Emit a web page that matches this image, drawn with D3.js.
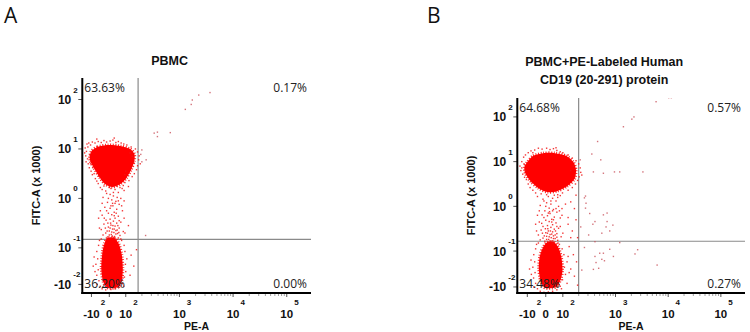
<!DOCTYPE html>
<html><head><meta charset="utf-8">
<script src="https://cdn.jsdelivr.net/npm/d3@7"></script>
<style>body{margin:0;background:#fff}svg{display:block}</style>
</head><body>
<svg id="c" width="750" height="332"></svg>
<script>
// ---------- DATA (axis values in display-channel units: PE-A ticks -10^2..10^5 => -1..4; FITC-A ticks -10^-2..10^2 => -2..2) ----------
const xTickValues = [-1, 0, 1, 2, 3, 4];
const xTickBase = ["-10", "0", "10", "10", "10", "10"];
const xTickExp = ["2", "", "2", "3", "4", "5"];
const yTickValues = [2, 1, 0, -1, -2];
const yTickBase = ["10", "10", "10", "10", "-10"];
const yTickExp = ["2", "1", "0", "-1", "-2"];

const panelLetters = ["A", "B"];
const panelTitles = [["PBMC"], ["PBMC+PE-Labeled Human", "CD19 (20-291) protein"]];
const quadrantA = ["63.63%", "0.17%", "36.20%", "0.00%"]; // UL, UR, LL, LR
const quadrantB = ["64.68%", "0.57%", "34.48%", "0.27%"];
const gateA = [1.23, -0.83];
const gateB = [1.30, -0.78];

// dense population outlines
const coreUpperA = [[-1.03,0.94],[-0.67,1.04],[-0.06,1.08],[0.67,1.06],[1.08,1.00],[1.16,0.90],[1.16,0.76],[1.10,0.58],[1.01,0.41],[0.67,0.29],[0.18,0.23],[-0.24,0.29],[-0.55,0.43],[-0.85,0.61],[-1.09,0.78]];
const coreLowerA = [[-0.10,-0.80],[0.30,-0.80],[0.58,-0.92],[0.76,-1.19],[0.82,-1.55],[0.77,-1.88],[0.55,-2.07],[-0.06,-2.10],[-0.34,-1.93],[-0.45,-1.55],[-0.38,-1.11],[-0.26,-0.90]];
const coreUpperB = [[-1.00,0.99],[-0.68,1.13],[-0.14,1.19],[0.54,1.19],[1.06,1.13],[1.20,0.99],[1.25,0.81],[1.22,0.61],[1.08,0.45],[0.66,0.34],[0.09,0.32],[-0.41,0.41],[-0.84,0.57],[-1.11,0.74],[-1.16,0.88]];
const coreLowerB = [[0.08,-0.80],[0.49,-0.80],[0.75,-0.93],[0.92,-1.19],[0.98,-1.53],[0.87,-1.80],[0.60,-2.00],[-0.03,-2.03],[-0.28,-1.83],[-0.38,-1.47],[-0.32,-1.14],[-0.15,-0.92]];

// individual events around the dense populations
const eventsA = [
[-1.35,1.02],[-1.28,0.95],[-1.32,0.86],[-1.22,0.80],[-1.25,1.10],[-1.15,1.12],[-1.05,1.08],[-0.95,1.14],[-0.80,1.12],[-0.62,1.15],[-0.45,1.13],[-0.30,1.17],[-0.15,1.14],[0.05,1.16],[0.22,1.18],[0.40,1.13],[0.55,1.15],[0.72,1.12],[0.88,1.10],[1.02,1.08],[1.10,1.04],[1.18,1.00],[1.22,0.94],[1.25,0.86],[1.24,0.78],[1.27,0.70],[1.22,0.66],[1.20,0.58],[1.16,0.50],[1.12,0.44],[1.06,0.36],[0.95,0.32],[0.85,0.26],[0.78,0.20],[-1.18,0.70],[-1.12,0.62],[-1.02,0.55],[-0.95,0.48],[-0.85,0.50],[-0.78,0.40],[-0.70,0.35],[-0.62,0.30],[-0.50,0.22],[-1.30,0.74],[-1.38,0.92],[-0.40,0.18],[0.90,0.16],[1.05,0.24],[-1.10,0.88],[-1.20,1.04],[0.30,1.22],[-0.70,1.20],[1.15,0.72],[1.12,0.85],[1.08,0.92],[-1.05,0.70],[-0.92,0.62],[0.95,0.48],[1.00,0.55],[-0.60,0.45],
[0.10,0.20],[0.35,0.18],[-0.20,0.15],[0.55,0.12],[0.05,0.08],[0.25,0.05],[-0.35,0.02],[0.70,0.00],[0.15,-0.03],[0.40,-0.06],[-0.10,-0.08],[0.60,-0.12],[0.22,-0.15],[-0.25,-0.18],[0.05,-0.20],[0.45,-0.22],[0.80,-0.25],[0.30,-0.28],[-0.05,-0.30],[0.15,-0.33],[-0.40,-0.34],[0.55,-0.36],[0.35,-0.40],[0.05,-0.42],[-0.18,-0.44],[0.25,-0.46],[0.70,-0.48],[0.45,-0.50],[-0.30,-0.52],[0.10,-0.54],[0.35,-0.56],[-0.05,-0.58],[0.60,-0.60],[0.20,-0.62],[-0.45,-0.63],[0.40,-0.65],[0.00,-0.66],[0.85,-0.67],[0.28,-0.69],[-0.20,-0.70],[0.50,-0.71],[0.12,-0.73],[-0.35,-0.74],[0.65,-0.75],[0.32,-0.77],[-0.10,-0.78],[0.95,-0.70],[-0.55,-0.60],[1.05,-0.55],[0.90,-0.40],[-0.50,-0.25],[0.75,-0.15],[0.48,0.02],[-0.15,0.10],[0.20,-0.10],[0.08,-0.50],[0.42,-0.30],[-0.28,-0.40],[0.18,-0.76],[0.55,-0.80],
[0.05,-0.60],[0.30,-0.62],[0.15,-0.68],[0.40,-0.72],[0.00,-0.74],[0.25,-0.79],[0.48,-0.64],[-0.12,-0.66],[0.58,-0.69],[0.10,-0.80],[0.38,-0.82],[-0.22,-0.60],[0.22,-0.55],[0.52,-0.55],[-0.08,-0.50],[0.30,-0.35],[0.60,-0.45],[-0.15,-0.25],[0.10,-0.15],[0.35,-0.10],[0.55,-0.05],[-0.05,0.00],[0.25,0.12],[0.45,0.25],[0.00,0.22],[-0.30,0.25],[0.65,0.22],[-0.40,-0.10],[0.90,-0.05],[-0.60,-0.40],
[-0.60,-0.95],[-0.70,-1.10],[-0.65,-1.30],[-0.75,-1.45],[-0.62,-1.60],[-0.70,-1.75],[-0.58,-1.90],[-0.50,-2.05],[-0.40,-2.12],[-0.20,-2.15],[0.10,-2.14],[0.35,-2.12],[0.62,-2.08],[0.80,-1.98],[0.92,-1.80],[1.00,-1.65],[0.98,-1.45],[1.02,-1.30],[0.95,-1.10],[0.90,-0.95],[0.75,-0.85],[1.10,-1.20],[1.15,-1.50],[1.08,-1.75],[-0.85,-1.25],[-0.80,-1.65],[-0.55,-0.85],[0.70,-0.82],[-0.45,-0.82],[1.20,-1.05],[-0.90,-1.50],[0.88,-2.05],[-0.68,-2.00]
];
const sparseA = [[2.57,2.14],[2.36,2.09],[2.24,1.99],[2.22,1.90],[2.11,1.80],[1.83,1.33],[1.59,1.34],[1.53,1.32],[1.59,1.25],[1.30,0.98],[1.28,0.89],[1.38,0.78],[1.30,0.74],[1.37,-0.75]];

const eventsB = [
[-1.40,0.90],[-1.35,0.80],[-1.30,1.00],[-1.25,0.72],[-1.20,1.10],[-1.10,1.15],[-0.95,1.20],[-0.80,1.24],[-0.60,1.26],[-0.40,1.30],[-0.20,1.28],[0.05,1.30],[0.25,1.27],[0.45,1.29],[0.65,1.25],[0.85,1.22],[1.00,1.20],[1.10,1.15],[1.18,1.08],[1.25,1.02],[1.30,0.95],[1.33,0.86],[1.34,0.76],[1.31,0.66],[1.28,0.58],[1.24,0.50],[1.18,0.42],[1.10,0.36],[0.98,0.30],[0.85,0.24],[0.70,0.20],[-0.95,0.50],[-1.05,0.60],[-1.15,0.65],[-0.85,0.42],[-0.70,0.36],[-0.55,0.30],[-0.45,0.22],[-1.30,0.86],[1.36,0.70],[-1.18,0.95],[-0.70,1.20],[0.60,1.31],[1.15,0.80],[1.20,0.90],[1.22,0.65],[-1.10,0.80],[0.95,0.40],[-0.80,0.55],
[0.15,0.22],[0.40,0.18],[-0.15,0.16],[0.60,0.12],[0.05,0.08],[0.30,0.05],[-0.30,0.02],[0.75,0.00],[0.20,-0.04],[0.45,-0.07],[-0.05,-0.10],[0.65,-0.13],[0.25,-0.16],[-0.20,-0.19],[0.10,-0.21],[0.50,-0.24],[0.85,-0.26],[0.35,-0.29],[0.00,-0.31],[0.20,-0.34],[-0.35,-0.35],[0.60,-0.37],[0.40,-0.41],[0.10,-0.43],[-0.15,-0.45],[0.30,-0.47],[0.75,-0.49],[0.50,-0.51],[-0.25,-0.53],[0.15,-0.55],[0.40,-0.57],[0.00,-0.59],[0.65,-0.61],[0.25,-0.63],[-0.40,-0.64],[0.45,-0.66],[0.05,-0.67],[0.90,-0.68],[0.32,-0.70],[-0.15,-0.71],[0.55,-0.72],[0.17,-0.74],[-0.30,-0.75],[0.70,-0.76],[0.37,-0.77],[-0.05,-0.78],[1.00,-0.60],[-0.50,-0.55],[1.10,-0.40],[0.95,-0.20],[-0.45,-0.20],[0.80,-0.10],[1.05,0.05],[-0.10,0.12],[0.22,-0.12],[0.12,-0.50],[0.45,-0.30],[-0.22,-0.38],[1.15,-0.70],[0.85,-0.45],
[0.10,-0.60],[0.35,-0.62],[0.20,-0.68],[0.45,-0.72],[0.05,-0.74],[0.30,-0.79],[0.55,-0.64],[-0.08,-0.66],[0.65,-0.69],[0.15,-0.80],[0.42,-0.82],[-0.18,-0.60],[0.27,-0.55],[0.57,-0.55],[-0.02,-0.50],[0.35,-0.35],[0.65,-0.45],[-0.10,-0.25],[0.15,-0.15],[0.40,-0.10],[0.60,-0.05],[0.00,0.00],[0.30,0.12],[0.50,0.25],[0.05,0.26],[-0.25,0.28],[0.70,0.26],[-0.35,-0.10],[0.95,-0.05],[-0.55,-0.40],
[1.15,0.10],[1.22,-0.05],[1.10,-0.25],[1.25,-0.30],[1.18,-0.55],[1.28,-0.70],[1.12,-0.90],[1.20,-1.10],[1.26,-1.30],[1.15,-1.50],[1.22,-1.70],[1.08,-1.90],[1.28,-1.95],[1.25,0.25],
[-0.55,-0.95],[-0.65,-1.10],[-0.60,-1.30],[-0.70,-1.45],[-0.58,-1.60],[-0.66,-1.75],[-0.55,-1.90],[-0.45,-2.05],[-0.30,-2.12],[-0.10,-2.15],[0.15,-2.14],[0.40,-2.12],[0.65,-2.08],[0.85,-1.98],[0.98,-1.80],[1.05,-1.65],[1.03,-1.45],[1.08,-1.30],[1.02,-1.10],[0.96,-0.95],[0.80,-0.85],[-0.80,-1.25],[-0.78,-1.65],[-0.50,-0.85],[0.72,-0.82],[-0.40,-0.82],[-0.88,-1.50],[0.92,-2.05],[-0.65,-2.00],[1.12,-1.60],[1.10,-1.15]
];
const sparseB = [[2.77,2.34],[3.01,2.43],[3.06,2.43],[2.35,2.00],[2.31,1.95],[2.15,1.78],[1.66,1.45],[1.55,1.17],[1.72,1.04],[1.58,0.77],[1.77,0.74],[1.98,0.77],[2.08,0.77],[2.52,0.77],[1.33,1.04],[1.41,0.19],[1.43,-0.04],[1.51,-0.16],[1.77,-0.19],[1.61,-0.34],[1.57,-0.40],[1.84,-0.34],[1.95,-0.42],[1.82,-0.46],[1.89,-0.55],[1.34,-0.46],[1.49,-0.64],[2.08,-0.81],[1.41,-0.92],[1.89,-0.96],[2.42,-0.97],[2.37,-1.08],[1.70,-1.06],[1.77,-1.06],[1.61,-1.15],[1.74,-1.23],[1.96,-1.15],[1.63,-1.32],[1.79,-1.27],[2.79,-1.39],[1.68,-1.48],[1.36,-1.53],[1.58,-1.51],[1.43,0.23],[1.44,0.07],[1.84,-0.15],[1.74,-0.60],[1.61,-0.79]];

// ---------- LAYOUT ----------
const panels = [
  {letter: panelLetters[0], title: panelTitles[0], quad: quadrantA, gate: gateA, cores: [coreUpperA, coreLowerA], events: eventsA, sparse: sparseA,
   left: 82.3, right: 311, top: 78, bottom: 293, xFrac: [0.04, 0.118, 0.19, 0.894], yFrac: [0.96, 0.79, 0.10],
   letterX: 4, titleY: [64.5]},
  {letter: panelLetters[1], title: panelTitles[1], quad: quadrantB, gate: gateB, cores: [coreUpperB, coreLowerB], events: eventsB, sparse: sparseB,
   left: 517.3, right: 745, top: 98, bottom: 293, xFrac: [0.044, 0.125, 0.2, 0.894], yFrac: [0.969, 0.785, 0.097],
   letterX: 427, titleY: [65.5, 83.5]}
];

const svg = d3.select("#c");
const red = "#ff0000";

panels.forEach((p, i) => {
  const g = svg.append("g");
  const W = p.right - p.left, H = p.bottom - p.top;
  const x = d3.scaleLinear().domain([-1, 0, 1, 4]).range(p.xFrac.map(f => p.left + f * W));
  const y = d3.scaleLinear().domain([-2, -1, 2]).range(p.yFrac.map(f => p.top + f * H));

  g.append("text").attr("x", p.letterX).attr("y", 23).text(p.letter)
    .attr("font-family", "Open Sans, sans-serif").attr("font-size", 21).attr("fill", "#111");

  const cx = (p.left + p.right) / 2;
  p.title.forEach((t, k) => g.append("text").attr("x", cx - 27).attr("y", p.titleY[k]).text(t)
    .attr("text-anchor", "middle").attr("font-family", "Liberation Sans, Arial, sans-serif")
    .attr("font-weight", "bold").attr("font-size", 12.5).attr("fill", "#111"));

  const clipId = "clip" + i;
  svg.append("clipPath").attr("id", clipId).append("rect")
    .attr("x", p.left).attr("y", p.top).attr("width", W).attr("height", H);
  const plot = g.append("g").attr("clip-path", `url(#${clipId})`);

  // gates
  plot.append("line").attr("x1", x(p.gate[0])).attr("x2", x(p.gate[0])).attr("y1", p.top).attr("y2", p.bottom)
    .attr("stroke", "#8a8a8a").attr("stroke-width", 1.2);
  plot.append("line").attr("x1", p.left).attr("x2", p.right).attr("y1", y(p.gate[1])).attr("y2", y(p.gate[1]))
    .attr("stroke", "#8a8a8a").attr("stroke-width", 1.2);

  // dense populations
  const outline = d3.line().x(d => x(d[0])).y(d => y(d[1])).curve(d3.curveCardinalClosed.tension(0.2));
  p.cores.forEach(c => {
    plot.append("path").attr("d", outline(c)).attr("fill", red)
      .attr("stroke", red).attr("stroke-width", 3).attr("stroke-dasharray", "1 1.6").attr("stroke-opacity", 0.85);
  });

  // individual events
  plot.selectAll(".ev").data(p.events).join("rect").attr("class", "ev")
    .attr("x", d => x(d[0]) - 0.7).attr("y", d => y(d[1]) - 0.7).attr("width", 1.4).attr("height", 1.4)
    .attr("fill", "#f01414").attr("opacity", 0.85);
  plot.selectAll(".sp").data(p.sparse).join("rect").attr("class", "sp")
    .attr("x", d => x(d[0]) - 0.7).attr("y", d => y(d[1]) - 0.7).attr("width", 1.4).attr("height", 1.4)
    .attr("fill", "#c8505a").attr("opacity", 0.8);

  // quadrant percentages
  const qpos = [[p.left + 2, p.top + 14, "start"], [p.right - 4, p.top + 14, "end"],
                [p.left + 2, p.bottom - 5, "start"], [p.right - 4, p.bottom - 5, "end"]];
  p.quad.forEach((t, k) => {
    g.append("text").attr("x", qpos[k][0]).attr("y", qpos[k][1]).attr("text-anchor", qpos[k][2]).text(t)
      .attr("font-family", "Open Sans, sans-serif").attr("font-size", 12).attr("fill", "#222");
  });

  // minor ticks on x axis (log decades)
  const minor = [];
  for (let dec = 1; dec < 4; dec++) for (let m = 2; m <= 9; m++) minor.push(dec + Math.log10(m));
  g.selectAll(".mt").data(minor).join("line").attr("class", "mt")
    .attr("x1", d => x(d)).attr("x2", d => x(d)).attr("y1", p.bottom).attr("y2", p.bottom + 3)
    .attr("stroke", "#888").attr("stroke-width", 0.8);
  g.selectAll(".Mt").data(xTickValues).join("line").attr("class", "Mt")
    .attr("x1", d => x(d)).attr("x2", d => x(d)).attr("y1", p.bottom).attr("y2", p.bottom + 4)
    .attr("stroke", "#555").attr("stroke-width", 1);
  g.selectAll(".My").data(yTickValues).join("line").attr("class", "My")
    .attr("y1", d => y(d)).attr("y2", d => y(d)).attr("x1", p.left - 4).attr("x2", p.left)
    .attr("stroke", "#555").attr("stroke-width", 1);

  // axes lines
  g.append("line").attr("x1", p.left).attr("x2", p.left).attr("y1", p.top).attr("y2", p.bottom + 1)
    .attr("stroke", "#000").attr("stroke-width", 2);
  g.append("line").attr("x1", p.left - 1).attr("x2", p.right).attr("y1", p.bottom).attr("y2", p.bottom)
    .attr("stroke", "#000").attr("stroke-width", 2);

  const tf = "Liberation Sans, Arial, sans-serif";
  // x tick labels
  xTickValues.forEach((v, k) => {
    const t = g.append("text").attr("x", x(v)).attr("y", 317.5).attr("text-anchor", "middle")
      .attr("font-family", tf).attr("font-weight", "bold").attr("font-size", 11.5).attr("fill", "#111").text(xTickBase[k]);
    if (xTickExp[k]) {
      const w = t.node().getComputedTextLength();
      g.append("text").attr("x", x(v) + w / 2 + 1).attr("y", 305).attr("font-family", tf).attr("font-weight", "bold")
        .attr("font-size", 8).attr("fill", "#111").text(xTickExp[k]);
    }
  });
  // y tick labels
  yTickValues.forEach((v, k) => {
    g.append("text").attr("x", p.left - 11).attr("y", y(v) + 4.5).attr("text-anchor", "end")
      .attr("font-family", tf).attr("font-weight", "bold").attr("font-size", 12).attr("fill", "#111").text(yTickBase[k]);
    g.append("text").attr("x", p.left - 9).attr("y", y(v) - 7).attr("font-family", tf).attr("font-weight", "bold")
      .attr("font-size", 8).attr("fill", "#111").text(yTickExp[k]);
  });

  // axis titles
  g.append("text").attr("x", cx).attr("y", 329.5).attr("text-anchor", "middle").attr("font-family", tf)
    .attr("font-weight", "bold").attr("font-size", 10.5).attr("fill", "#111").text("PE-A");
  g.append("text").attr("transform", `translate(${p.left - 42},${(p.top + p.bottom) / 2}) rotate(-90)`)
    .attr("text-anchor", "middle").attr("font-family", tf).attr("font-weight", "bold").attr("font-size", 11)
    .attr("fill", "#111").text("FITC-A (x 1000)");
});
</script>
</body></html>
